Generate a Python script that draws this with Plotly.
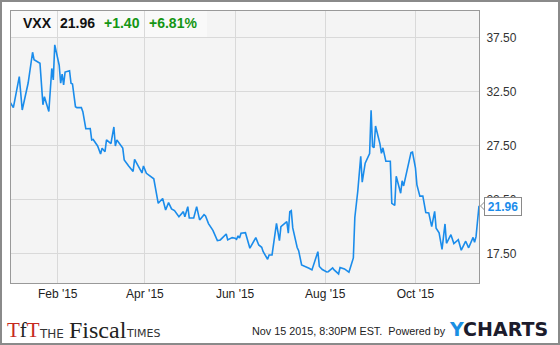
import plotly.graph_objects as go

# ---------------- data ----------------
dates = [
    "2014-12-31", "2015-01-02", "2015-01-06", "2015-01-08", "2015-01-10", "2015-01-12",
    "2015-01-15", "2015-01-16", "2015-01-20", "2015-01-22", "2015-01-23", "2015-01-26",
    "2015-01-28", "2015-01-29", "2015-01-30", "2015-02-02", "2015-02-03", "2015-02-04",
    "2015-02-05", "2015-02-06", "2015-02-09", "2015-02-10", "2015-02-11", "2015-02-13",
    "2015-02-14", "2015-02-17", "2015-02-18", "2015-02-20", "2015-02-23", "2015-02-24",
    "2015-02-25", "2015-02-28", "2015-03-02", "2015-03-03", "2015-03-05", "2015-03-06",
    "2015-03-09", "2015-03-11", "2015-03-12", "2015-03-13", "2015-03-17", "2015-03-18",
    "2015-03-21", "2015-03-24", "2015-03-25", "2015-03-27", "2015-03-30", "2015-03-31",
    "2015-04-02", "2015-04-07", "2015-04-10", "2015-04-13", "2015-04-15", "2015-04-17",
    "2015-04-19", "2015-04-21", "2015-04-24", "2015-04-27", "2015-04-28", "2015-04-30",
    "2015-05-01", "2015-05-04", "2015-05-06", "2015-05-08", "2015-05-11", "2015-05-12",
    "2015-05-14", "2015-05-17", "2015-05-20", "2015-05-22", "2015-05-24", "2015-05-26",
    "2015-05-27", "2015-05-30", "2015-06-01", "2015-06-02", "2015-06-03", "2015-06-04",
    "2015-06-05", "2015-06-08", "2015-06-11", "2015-06-13", "2015-06-15", "2015-06-17",
    "2015-06-19", "2015-06-20", "2015-06-23", "2015-06-24", "2015-06-26", "2015-06-29",
    "2015-07-01", "2015-07-02", "2015-07-05", "2015-07-06", "2015-07-07", "2015-07-08",
    "2015-07-09", "2015-07-10", "2015-07-13", "2015-07-14", "2015-07-16", "2015-07-19",
    "2015-07-21", "2015-07-23", "2015-07-25", "2015-07-27", "2015-07-28", "2015-07-30",
    "2015-08-02", "2015-08-03", "2015-08-06", "2015-08-07", "2015-08-10", "2015-08-11",
    "2015-08-14", "2015-08-17", "2015-08-18", "2015-08-20", "2015-08-21", "2015-08-23",
    "2015-08-25", "2015-08-26", "2015-08-28", "2015-08-31", "2015-09-01", "2015-09-02",
    "2015-09-03", "2015-09-04", "2015-09-07", "2015-09-08", "2015-09-09", "2015-09-11",
    "2015-09-14", "2015-09-15", "2015-09-17", "2015-09-18", "2015-09-21", "2015-09-22",
    "2015-09-23", "2015-09-28", "2015-09-29", "2015-10-01", "2015-10-02", "2015-10-04",
    "2015-10-06", "2015-10-08", "2015-10-10", "2015-10-12", "2015-10-14", "2015-10-15",
    "2015-10-17", "2015-10-19", "2015-10-21", "2015-10-22", "2015-10-25", "2015-10-27",
    "2015-10-30", "2015-11-01", "2015-11-04", "2015-11-06", "2015-11-09", "2015-11-10",
    "2015-11-11", "2015-11-13",
]

vxx = [
    31.51, 31.05, 33.92, 30.83, 32.08, 33.33, 36.18, 35.49, 35.16, 31.32, 32.06, 30.69,
    34.68, 33.61, 36.87, 34.98, 33.31, 34.15, 33.15, 34.35, 34.47, 33.31, 33.24, 31.14,
    31.05, 31.05, 30.68, 29.10, 29.12, 28.06, 28.10, 27.50, 26.76, 27.29, 26.97, 28.06,
    27.71, 29.26, 27.50, 28.06, 27.31, 26.20, 25.65, 25.14, 26.27, 25.74, 25.00, 25.65,
    24.97, 24.46, 22.19, 22.64, 21.57, 22.25, 21.67, 21.51, 20.95, 21.42, 20.95, 21.88,
    20.83, 20.83, 21.88, 20.65, 21.14, 21.02, 20.31, 19.69, 18.73, 18.80, 19.05, 19.35,
    18.80, 19.01, 18.95, 18.86, 19.17, 18.98, 19.42, 19.47, 18.03, 18.55, 19.01, 18.33,
    18.12, 17.71, 17.01, 17.41, 17.41, 20.34, 18.73, 20.03, 20.34, 20.49, 19.42, 21.42,
    21.51, 19.91, 18.10, 17.80, 16.48, 16.32, 16.18, 16.02, 16.79, 17.71, 16.34, 16.06,
    15.83, 15.86, 16.20, 16.02, 15.65, 16.25, 16.11, 15.81, 16.25, 17.13, 20.88, 23.33,
    26.55, 24.15, 25.90, 26.79, 30.81, 27.44, 27.34, 29.35, 27.69, 26.82, 27.33, 26.08,
    26.08, 22.19, 21.99, 24.69, 23.12, 24.28, 23.80, 26.88, 26.93, 25.48, 23.89, 22.86,
    22.87, 21.34, 21.30, 20.03, 21.45, 19.88, 19.46, 17.92, 20.28, 18.49, 19.29, 18.46,
    18.82, 17.85, 18.68, 18.07, 19.03, 18.58, 19.10, 21.96,
]

ticker = "VXX"
last_price = "21.96"
change = "+1.40"
change_pct = "+6.81%"
y_ticks = [17.5, 22.5, 27.5, 32.5, 37.5]
footer_text = "Nov 15 2015, 8:30PM EST.  Powered by"

# ---------------- layout geometry ----------------
W, H = 560, 345
L, R, T, B = 11, 81, 11, 62
PW, PH = W - L - R, H - T - B


def fx(px):
    return (px - L) / PW


def fy(py):
    return 1 - (py - T) / PH


LINE_BLUE = "#1a8ceb"
GREEN = "#149614"
SANS = "Liberation Sans, Arial, sans-serif"
SERIF = "Liberation Serif, Times New Roman, serif"

fig = go.Figure()
fig.add_trace(go.Scatter(
    x=dates, y=vxx, mode="lines",
    line=dict(color=LINE_BLUE, width=1.6),
    hoverinfo="skip", showlegend=False,
))

fig.update_layout(
    width=W, height=H,
    margin=dict(l=L, r=R, t=T, b=B, pad=0),
    paper_bgcolor="white",
    plot_bgcolor="#f4f4f4",
    showlegend=False,
    xaxis=dict(
        type="date",
        range=["2014-12-31 09:36", "2015-11-13"],
        tick0="2015-02-01", dtick="M2", tickformat="%b '%y",
        showgrid=True, gridcolor="#d9d9d9", gridwidth=1,
        showline=True, mirror=True, linecolor="#999999", linewidth=1,
        ticks="", zeroline=False,
        tickfont=dict(family=SANS, size=12, color="#222222"),
        fixedrange=True,
    ),
    yaxis=dict(
        side="right",
        range=[14.81, 40.0],
        tickvals=y_ticks, tickformat=".2f",
        showgrid=True, gridcolor="#d9d9d9", gridwidth=1,
        showline=True, mirror=True, linecolor="#999999", linewidth=1,
        ticks="", zeroline=False,
        tickfont=dict(family=SANS, size=12, color="#333333"),
        ticklabelstandoff=4,
        fixedrange=True,
    ),
)

shapes = [
    # light title box
    dict(type="rect", xref="paper", yref="paper", layer="below",
         x0=fx(11), x1=fx(207), y0=fy(38), y1=fy(11),
         fillcolor="#f9f9f9", line=dict(width=0)),
    # outer image border
    dict(type="rect", xref="paper", yref="paper", layer="above",
         x0=fx(1), x1=fx(559), y0=fy(344), y1=fy(1),
         line=dict(color="#8a8a8a", width=2), fillcolor="rgba(0,0,0,0)"),
    # pointer of last-value callout
    dict(type="path", xref="paper", yref="paper", layer="above",
         path=f"M {fx(480.5)} {fy(206)} L {fx(485)} {fy(201.5)} L {fx(485)} {fy(210.5)} Z",
         fillcolor="white", line=dict(color="#8a8a8a", width=1)),
]
fig.update_layout(shapes=shapes)

ann = []
# header values
for txt, px, col in [(ticker, 21, "#111111"), (last_price, 58, "#111111"),
                     (change, 101.5, GREEN), (change_pct, 146.5, GREEN)]:
    ann.append(dict(text=f"<b>{txt}</b>", xref="paper", yref="paper",
                    x=fx(px), y=fy(23.5), xanchor="left", yanchor="middle",
                    showarrow=False, font=dict(family=SANS, size=14, color=col)))

# last value callout
ann.append(dict(text=f"<b>{last_price}</b>", xref="paper", yref="paper",
                x=fx(484), y=fy(206), xanchor="left", yanchor="middle",
                showarrow=False, bgcolor="white", bordercolor="#8a8a8a",
                borderwidth=1, borderpad=1, width=34, height=15,
                font=dict(family=SANS, size=12, color=LINE_BLUE)))

# footer: date and powered-by
ann.append(dict(text=footer_text, xref="paper", yref="paper",
                x=fx(250), y=fy(330.5), xanchor="left", yanchor="middle",
                showarrow=False, font=dict(family=SANS, size=10.8, color="#222222")))
ann.append(dict(text="<b><span style='color:#1a8fe3'>Y</span>"
                     "<span style='color:#1c1c2c'>CHARTS</span></b>",
                xref="paper", yref="paper",
                x=fx(447), y=fy(329), xanchor="left", yanchor="middle",
                showarrow=False, font=dict(family="DejaVu Sans, sans-serif", size=19)))

# footer: The Fiscal Times logo
ann.append(dict(text="<span style='color:#c62a1e'>T</span>"
                     "<span style='color:#222222'>f</span>"
                     "<span style='color:#c62a1e'>T</span>",
                xref="paper", yref="paper", x=fx(5), y=fy(330),
                xanchor="left", yanchor="middle", showarrow=False,
                font=dict(family=SERIF, size=21)))
ann.append(dict(text="THE", xref="paper", yref="paper", x=fx(37), y=fy(333.5),
                xanchor="left", yanchor="middle", showarrow=False,
                font=dict(family="DejaVu Sans, sans-serif", size=12, color="#333333")))
ann.append(dict(text="Fiscal", xref="paper", yref="paper", x=fx(67), y=fy(329.5),
                xanchor="left", yanchor="middle", showarrow=False,
                font=dict(family=SERIF, size=24, color="#222222")))
ann.append(dict(text="TIMES", xref="paper", yref="paper", x=fx(123.5), y=fy(333.5),
                xanchor="left", yanchor="middle", showarrow=False,
                font=dict(family="DejaVu Sans, sans-serif", size=11, color="#333333")))

fig.update_layout(annotations=ann)

fig.write_html("out.html", config={"displayModeBar": False})
